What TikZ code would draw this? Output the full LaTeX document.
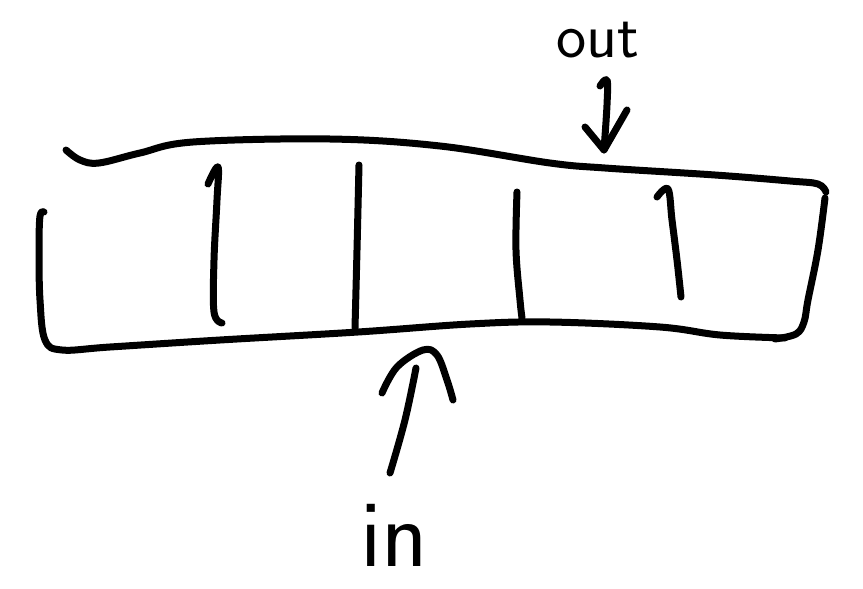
\documentclass[tikz,border=0pt]{standalone}
\begin{document}
\begin{tikzpicture}[x=1pt,y=-1pt,
  ink/.style={line width=7pt,line cap=round,line join=round,black},
  lbl/.style={font=\sffamily\fontsize{#1}{#1}\selectfont,inner sep=0pt,anchor=base}]
\useasboundingbox (0,0) rectangle (863,589);
% buffer outline
\draw[ink] plot[smooth,tension=0.6] coordinates{(66,150) (80,160) (99,163) (140,153) (193,142) (330,139) (440,146) (550,163) (605,168) (715,175) (790,181) (818,184) (826,192)};
\draw[ink] plot[smooth,tension=0.6] coordinates{(825,198) (818,250) (808,300) (804,322) (796,334) (775,339)};
\draw[ink] plot[smooth,tension=0.6] coordinates{(785,338) (720,335) (660,327) (550,322) (470,324) (358,332) (220,340) (110,347) (62,350) (45,340) (40,300) (39,250) (40,216) (44,212)};
% dividers
\draw[ink] plot[smooth,tension=0.6] coordinates{(208,184) (218,167) (217,200) (214,260) (214,312) (222,323)};
\draw[ink] plot[smooth,tension=0.6] coordinates{(359,165) (357,250) (355,328)};
\draw[ink] plot[smooth,tension=0.6] coordinates{(517,192) (516,250) (520,300) (522,318)};
\draw[ink] plot[smooth,tension=0.6] coordinates{(657,197) (668,189) (672,220) (677,260) (681,297)};
% labels
\node[lbl=64] (out) at (598,57) {out};
\node[lbl=96] (in) at (394,566) {in};
% out arrow
\coordinate (outtail) at (607,80);
\coordinate (outtip) at (604,150);
\draw[ink] plot[smooth,tension=0.6] coordinates{(600,86) (outtail) (607,105) (outtip)};
\draw[ink] (585,127) -- (outtip) -- (627,110);
% in arrow
\coordinate (intail) at (390,473);
\coordinate (intip) at (416,368);
\draw[ink] plot[smooth,tension=0.6] coordinates{(intip) (405,420) (intail)};
\draw[ink] plot[smooth,tension=0.6] coordinates{(382,393) (397,367) (423,350) (437,355) (447,380) (453,400)};
\end{tikzpicture}
\end{document}
